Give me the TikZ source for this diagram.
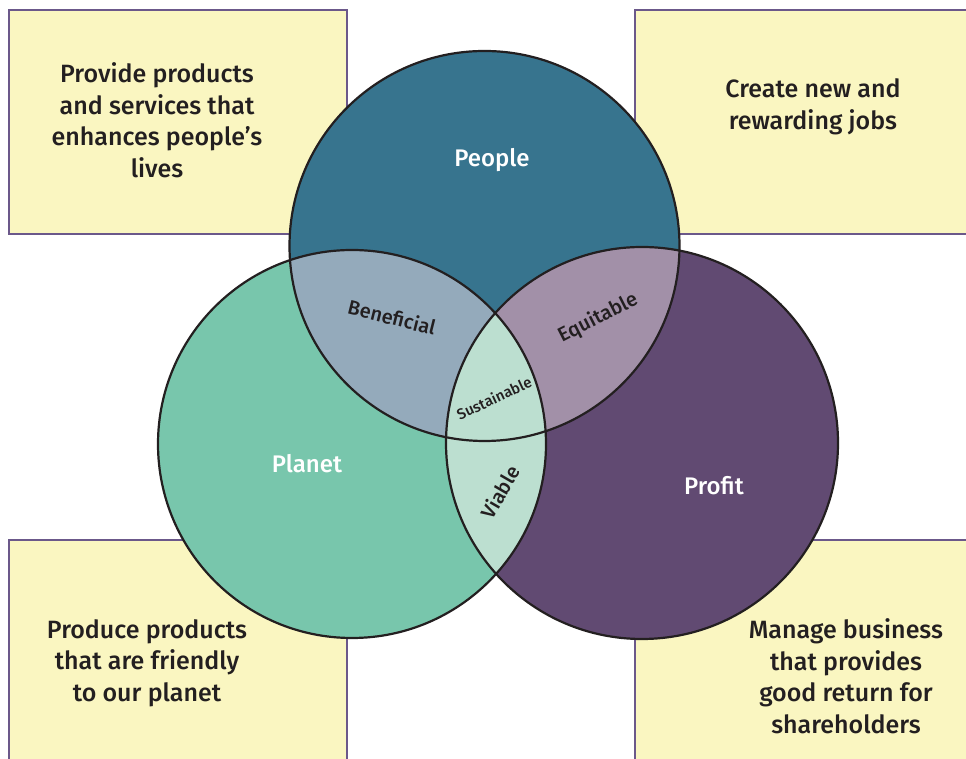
\documentclass[tikz,border=0pt]{standalone}
\usepackage{fontspec}
\setmainfont{Fira Sans}[UprightFont=* Medium]
\usepackage{tikz}
\usepackage{xcolor}

\begin{document}
\begin{tikzpicture}[x=1pt,y=1pt]
% Define colours
\definecolor{cpeople}{RGB}{55,116,142}
\definecolor{cplanet}{RGB}{120,198,172}
\definecolor{cprofit}{RGB}{97,74,114}
\definecolor{cbenef}{RGB}{148,170,187}
\definecolor{cequit}{RGB}{162,144,168}
\definecolor{csustain}{RGB}{188,223,208}
\definecolor{note}{RGB}{250,246,193}
\definecolor{noteline}{RGB}{107,88,138}
\definecolor{ink}{RGB}{35,31,32}

\tikzset{
  notebox/.style={draw=noteline, line width=1.5pt, fill=note},
  notetext/.style={text=ink, align=center, font=\fontsize{25}{31.5}\selectfont},
  bigtext/.style={text=white, font=\fontsize{24}{28}\selectfont},
  lenstext/.style={text=ink, font=\fontsize{20}{24}\selectfont},
  ring/.style={draw=ink, line width=2.2pt}
}

\useasboundingbox (0,0) rectangle (966,759);
\clip (0,0) rectangle (966,759);

% Draw note boxes
\draw[notebox] (9,749) rectangle (347,525);
\draw[notebox] (635,749) rectangle (975,525);
\draw[notebox] (9,219) rectangle (347,-10);
\draw[notebox] (635,219) rectangle (975,-10);

% Circle centres
\coordinate (cPeople) at (484.5,513);
\coordinate (cPlanet) at (352,315);
\coordinate (cProfit) at (642,316);

% Fill circles
\fill[cpeople] (cPeople) circle[radius=195];
\fill[cplanet] (cPlanet) circle[radius=194];
\fill[cprofit] (cProfit) circle[radius=196];

% Overlaps
\begin{scope}
  \clip (cPeople) circle[radius=195];
  \fill[cbenef] (cPlanet) circle[radius=194];
  \fill[cequit] (cProfit) circle[radius=196];
\end{scope}
\begin{scope}
  \clip (cPlanet) circle[radius=194];
  \fill[csustain] (cProfit) circle[radius=196];
\end{scope}

% Outlines
\draw[ring] (cPeople) circle[radius=195];
\draw[ring] (cPlanet) circle[radius=194];
\draw[ring] (cProfit) circle[radius=196];

% Note texts
\node[notetext] (notePeople) at (157,639) {Provide products\\and services that\\enhances people’s\\lives};
\node[notetext] (noteJobs) at (813,652) {Create new and\\rewarding jobs};
\node[notetext] (notePlanet) at (147,96) {Produce products\\that are friendly\\to our planet};
\node[notetext] (noteProfit) at (846,83) {Manage business\\that provides\\good return for\\shareholders};

% Circle labels
\node[bigtext] (people) at (492,599) {People};
\node[bigtext] (planet) at (307,295) {Planet};
\node[bigtext] (profit) at (714,273) {Profit};

% Overlap labels
\node[lenstext, rotate=-14] (beneficial) at (392,442) {Beneficial};
\node[lenstext, rotate=27] (equitable) at (598,441) {Equitable};
\node[lenstext, rotate=25, font=\fontsize{15}{18}\selectfont] (sustainable) at (494,361) {Sustainable};
\node[lenstext, rotate=60] (viable) at (500,267) {Viable};
\end{tikzpicture}
\end{document}
